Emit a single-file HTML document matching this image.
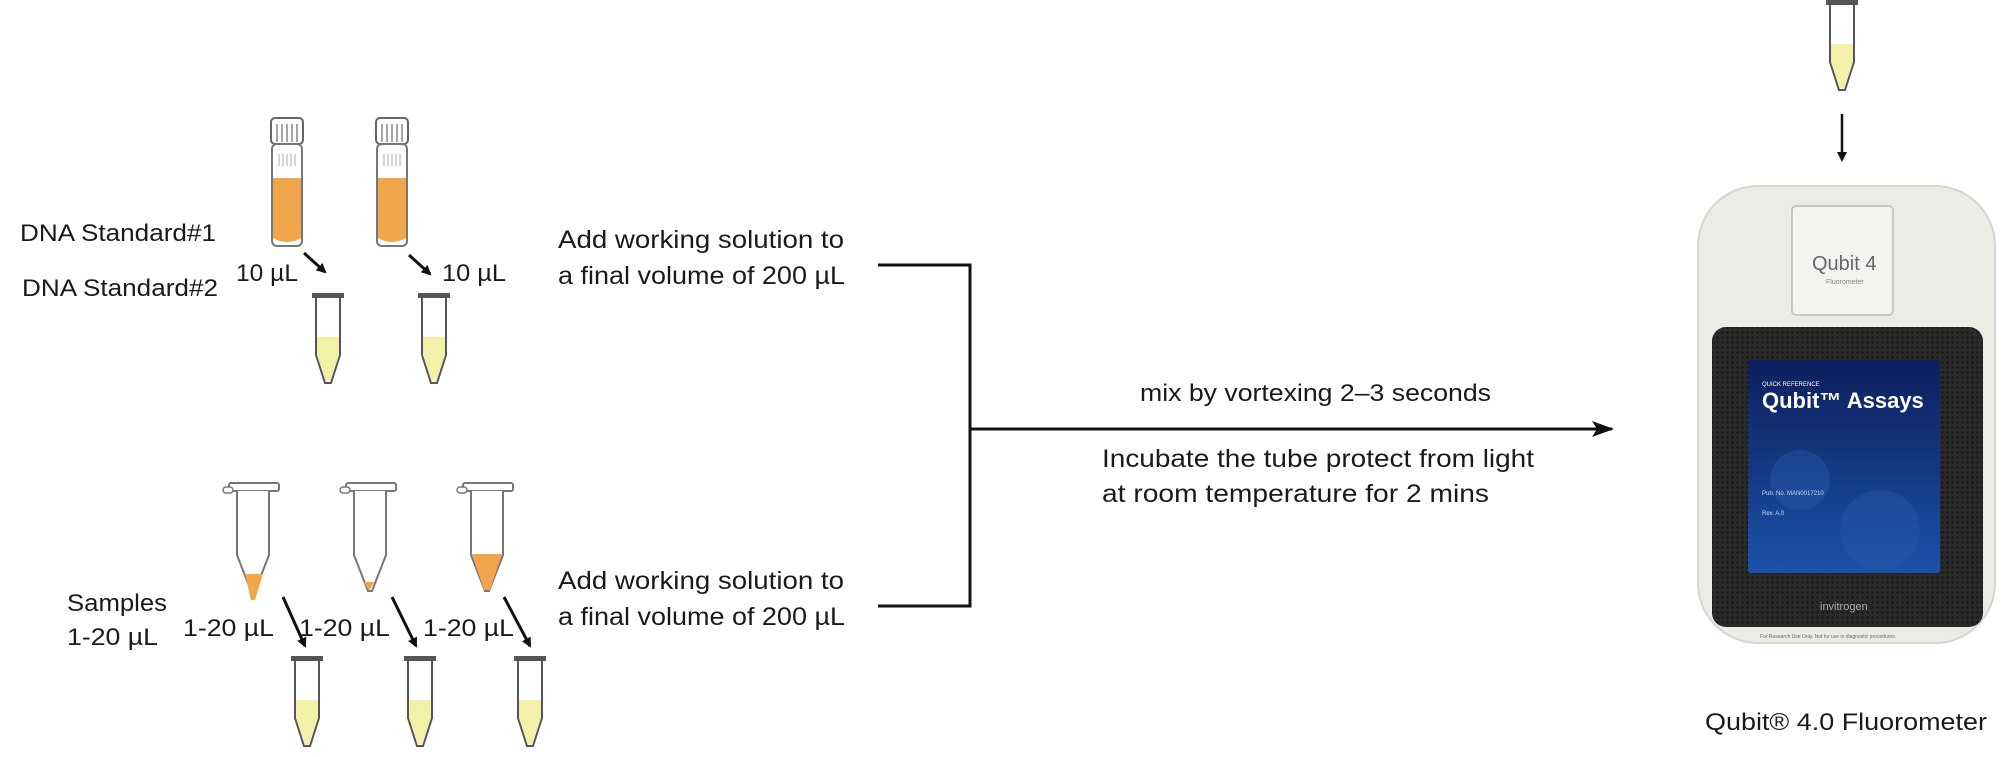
<!DOCTYPE html>
<html><head><meta charset="utf-8"><style>
html,body{margin:0;padding:0;background:#fff;}
svg{display:block;}
text{font-family:"Liberation Sans",sans-serif;fill:#1a1a1a;}
</style></head><body>
<svg width="2010" height="757" viewBox="0 0 2010 757" xmlns="http://www.w3.org/2000/svg">
<defs>
<marker id="ah" markerWidth="10" markerHeight="10" refX="8" refY="5" orient="auto" markerUnits="userSpaceOnUse">
<path d="M0,0 L10,5 L0,10 Z" fill="#111"/></marker>
<marker id="ah2" markerWidth="22" markerHeight="16" refX="20" refY="8" orient="auto" markerUnits="userSpaceOnUse">
<path d="M0,0 L22,8 L0,16 L5,8 Z" fill="#111"/></marker>
<linearGradient id="scr" x1="0" y1="0" x2="0" y2="1"><stop offset="0" stop-color="#0d1f5c"/><stop offset="1" stop-color="#1b52a8"/></linearGradient>
<pattern id="mesh" width="5" height="5" patternUnits="userSpaceOnUse"><rect width="5" height="5" fill="#2a2a2a"/><circle cx="2.5" cy="2.5" r="1.2" fill="#171717"/></pattern>
<g id="screw">
<rect x="2" y="0" width="32" height="26" rx="4" fill="#fff" stroke="#666" stroke-width="2"/>
<path d="M8,6v18M13,6v18M18,6v18M23,6v18M28,6v18" stroke="#888" stroke-width="1.5"/>
<rect x="3" y="26" width="30" height="102" rx="5" fill="#fff" stroke="#777" stroke-width="2"/>
<path d="M4,60 H32 V120 Q18,128 4,120 Z" fill="#f2a64c"/>
<path d="M10,36v12M14,36v12M18,36v12M22,36v12M26,36v12" stroke="#bbb" stroke-width="1.2"/>
</g>
<g id="small">
<rect x="0" y="0" width="32" height="5" fill="#555"/>
<path d="M4,5 V62 L13,90 H19 L28,62 V5" fill="#fff" stroke="#555" stroke-width="2"/>
<path d="M5,44 H27 V62 L18,88 H14 L5,62 Z" fill="#f3f1a8"/>
</g>
<g id="snap">
<rect x="6" y="0" width="50" height="8" rx="2" fill="#fff" stroke="#777" stroke-width="2"/>
<rect x="0" y="4" width="10" height="6" rx="3" fill="#fff" stroke="#777" stroke-width="1.5"/>
<path d="M14,8 V72 L28,108 H32 L46,72 V8" fill="#fff" stroke="#777" stroke-width="2"/>
</g>
</defs>

<text x="20" y="241" font-size="24" textLength="196" lengthAdjust="spacingAndGlyphs">DNA Standard#1</text>
<text x="22" y="296" font-size="24" textLength="196" lengthAdjust="spacingAndGlyphs">DNA Standard#2</text>
<use href="#screw" x="269" y="118"/>
<use href="#screw" x="374" y="118"/>
<text x="236" y="281" font-size="24" textLength="62" lengthAdjust="spacingAndGlyphs">10 µL</text>
<text x="442" y="281" font-size="24" textLength="64" lengthAdjust="spacingAndGlyphs">10 µL</text>
<line x1="304" y1="253" x2="325" y2="272" stroke="#111" stroke-width="3" marker-end="url(#ah)"/>
<line x1="409" y1="255" x2="430" y2="274" stroke="#111" stroke-width="3" marker-end="url(#ah)"/>
<use href="#small" x="312" y="293"/>
<use href="#small" x="418" y="293"/>

<use href="#snap" x="223" y="483"/>
<path d="M245,574 L251,600 H255 L263,574 Z" fill="#f2a64c"/>
<use href="#snap" x="340" y="483"/>
<path d="M364,582 L369,591 L374,582 Z" fill="#f2a64c"/>
<use href="#snap" x="457" y="483"/>
<path d="M472,554 H502 L490,590 H484 Z" fill="#f2a64c"/>
<text x="67" y="611" font-size="24" textLength="100" lengthAdjust="spacingAndGlyphs">Samples</text>
<text x="67" y="645" font-size="24" textLength="91" lengthAdjust="spacingAndGlyphs">1-20 µL</text>
<text x="183" y="636" font-size="24" textLength="91" lengthAdjust="spacingAndGlyphs">1-20 µL</text>
<text x="299" y="636" font-size="24" textLength="91" lengthAdjust="spacingAndGlyphs">1-20 µL</text>
<text x="423" y="636" font-size="24" textLength="91" lengthAdjust="spacingAndGlyphs">1-20 µL</text>
<line x1="283" y1="597" x2="305" y2="646" stroke="#111" stroke-width="3" marker-end="url(#ah)"/>
<line x1="392" y1="597" x2="416" y2="646" stroke="#111" stroke-width="3" marker-end="url(#ah)"/>
<line x1="504" y1="597" x2="530" y2="646" stroke="#111" stroke-width="3" marker-end="url(#ah)"/>
<use href="#small" x="291" y="656"/>
<use href="#small" x="404" y="656"/>
<use href="#small" x="514" y="656"/>

<text x="558" y="248" font-size="25" textLength="286" lengthAdjust="spacingAndGlyphs">Add working solution to</text>
<text x="558" y="284" font-size="25" textLength="287" lengthAdjust="spacingAndGlyphs">a final volume of 200 µL</text>
<text x="558" y="589" font-size="25" textLength="286" lengthAdjust="spacingAndGlyphs">Add working solution to</text>
<text x="558" y="625" font-size="25" textLength="287" lengthAdjust="spacingAndGlyphs">a final volume of 200 µL</text>

<path d="M878,265 H970 V606 H878" fill="none" stroke="#111" stroke-width="3"/>
<line x1="970" y1="429" x2="1612" y2="429" stroke="#111" stroke-width="3" marker-end="url(#ah2)"/>
<text x="1140" y="401" font-size="24" textLength="351" lengthAdjust="spacingAndGlyphs">mix by vortexing 2–3 seconds</text>
<text x="1102" y="467" font-size="25" textLength="432" lengthAdjust="spacingAndGlyphs">Incubate the tube protect from light</text>
<text x="1102" y="502" font-size="25" textLength="387" lengthAdjust="spacingAndGlyphs">at room temperature  for 2 mins</text>

<use href="#small" x="1826" y="0"/>
<line x1="1842" y1="114" x2="1842" y2="160" stroke="#111" stroke-width="2.5" marker-end="url(#ah)"/>

<rect x="1698" y="186" width="297" height="457" rx="60" fill="#ecebe6" stroke="#d6d5cf" stroke-width="2"/>
<rect x="1792" y="206" width="101" height="109" rx="4" fill="#f4f3ef" stroke="#c8c7c0" stroke-width="2"/>
<text x="1812" y="270" font-size="20" style="fill:#666">Qubit 4</text>
<text x="1826" y="284" font-size="7" style="fill:#888">Fluorometer</text>
<rect x="1712" y="327" width="271" height="300" rx="14" fill="url(#mesh)"/>
<rect x="1748" y="360" width="192" height="213" rx="3" fill="url(#scr)"/>
<circle cx="1800" cy="480" r="30" fill="#2a5cb0" opacity="0.4"/>
<circle cx="1880" cy="530" r="40" fill="#2a5cb0" opacity="0.35"/>
<text x="1762" y="386" font-size="6" style="fill:#fff">QUICK REFERENCE</text>
<text x="1762" y="408" font-size="22" font-weight="bold" style="fill:#fff">Qubit™ Assays</text>
<text x="1762" y="495" font-size="6" style="fill:#cde">Pub. No. MAN0017210</text>
<text x="1762" y="515" font-size="6" style="fill:#cde">Rev. A.0</text>
<text x="1820" y="610" font-size="11" style="fill:#aaa">invitrogen</text>
<text x="1760" y="638" font-size="5" style="fill:#666">For Research Use Only. Not for use in diagnostic procedures.</text>

<text x="1705" y="730" font-size="24" textLength="282" lengthAdjust="spacingAndGlyphs">Qubit® 4.0 Fluorometer</text>
</svg>
</body></html>
